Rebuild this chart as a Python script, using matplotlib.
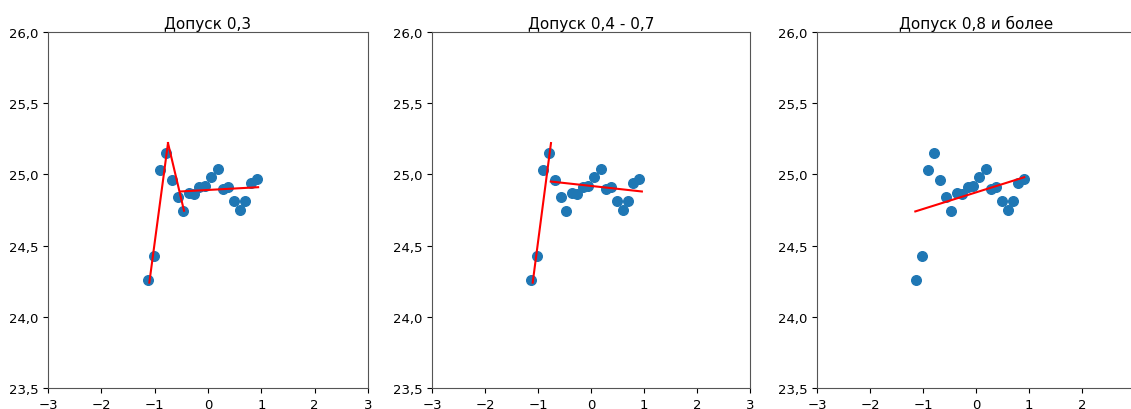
import numpy as np
import matplotlib
matplotlib.use("Agg")
import matplotlib.pyplot as plt
from matplotlib.ticker import FuncFormatter

# measured points (same in all three panels)
x_vals = [-1.13, -1.02, -0.90, -0.79, -0.68, -0.57, -0.47, -0.36, -0.27, -0.16,
          -0.05, 0.06, 0.18, 0.28, 0.38, 0.49, 0.60, 0.70, 0.80, 0.91]
y_vals = [24.26, 24.43, 25.03, 25.15, 24.96, 24.84, 24.74, 24.87, 24.86, 24.91,
          24.92, 24.98, 25.04, 24.90, 24.91, 24.81, 24.75, 24.81, 24.94, 24.97]

titles = ["Допуск 0,3", "Допуск 0,4 - 0,7", "Допуск 0,8 и более"]

# red fit segments per panel: list of (x0, x1, y0, y1)
segs_1 = [(-1.10, -0.75, 24.24, 25.22),
          (-0.75, -0.45, 25.22, 24.745),
          (-0.52, 0.94, 24.88, 24.91)]
segs_2 = [(-1.10, -0.755, 24.24, 25.22),
          (-0.76, 0.96, 24.95, 24.88)]
segs_3 = [(-1.145, 0.91, 24.74, 24.98)]
all_segs = [segs_1, segs_2, segs_3]

x_ticks = [-3, -2, -1, 0, 1, 2, 3]
y_ticks = [23.5, 24.0, 24.5, 25.0, 25.5, 26.0]

W, H = 1131, 410
fig = plt.figure(figsize=(W / 100, H / 100), dpi=100)

# axes boxes in pixels (left, right), top 33, bottom 389
boxes = [(48, 368), (432, 750), (817, 1135)]
top, bottom = 33, 389

comma = FuncFormatter(lambda v, p: ("%.1f" % v).replace(".", ","))
minus = FuncFormatter(lambda v, p: ("%d" % v).replace("-", "\u2212"))

for i in range(3):
    l, r = boxes[i]
    ax = fig.add_axes([l / W, 1 - bottom / H, (r - l) / W, (bottom - top) / H])
    ax.scatter(x_vals, y_vals, s=48, color="#1f77b4", zorder=2)
    for (x0, x1, y0, y1) in all_segs[i]:
        ax.plot([x0, x1], [y0, y1], color="red", lw=1.5, zorder=3)
    ax.set_xlim(-3, 3)
    ax.set_ylim(23.5, 26.0)
    ax.set_xticks(x_ticks)
    ax.set_yticks(y_ticks)
    ax.xaxis.set_major_formatter(minus)
    ax.yaxis.set_major_formatter(comma)
    ax.tick_params(labelsize=9.5)
    ax.set_title(titles[i], fontsize=11, pad=3)
    for s in ax.spines.values():
        s.set_color("#555555")

plt.savefig("out.png", dpi=100)
